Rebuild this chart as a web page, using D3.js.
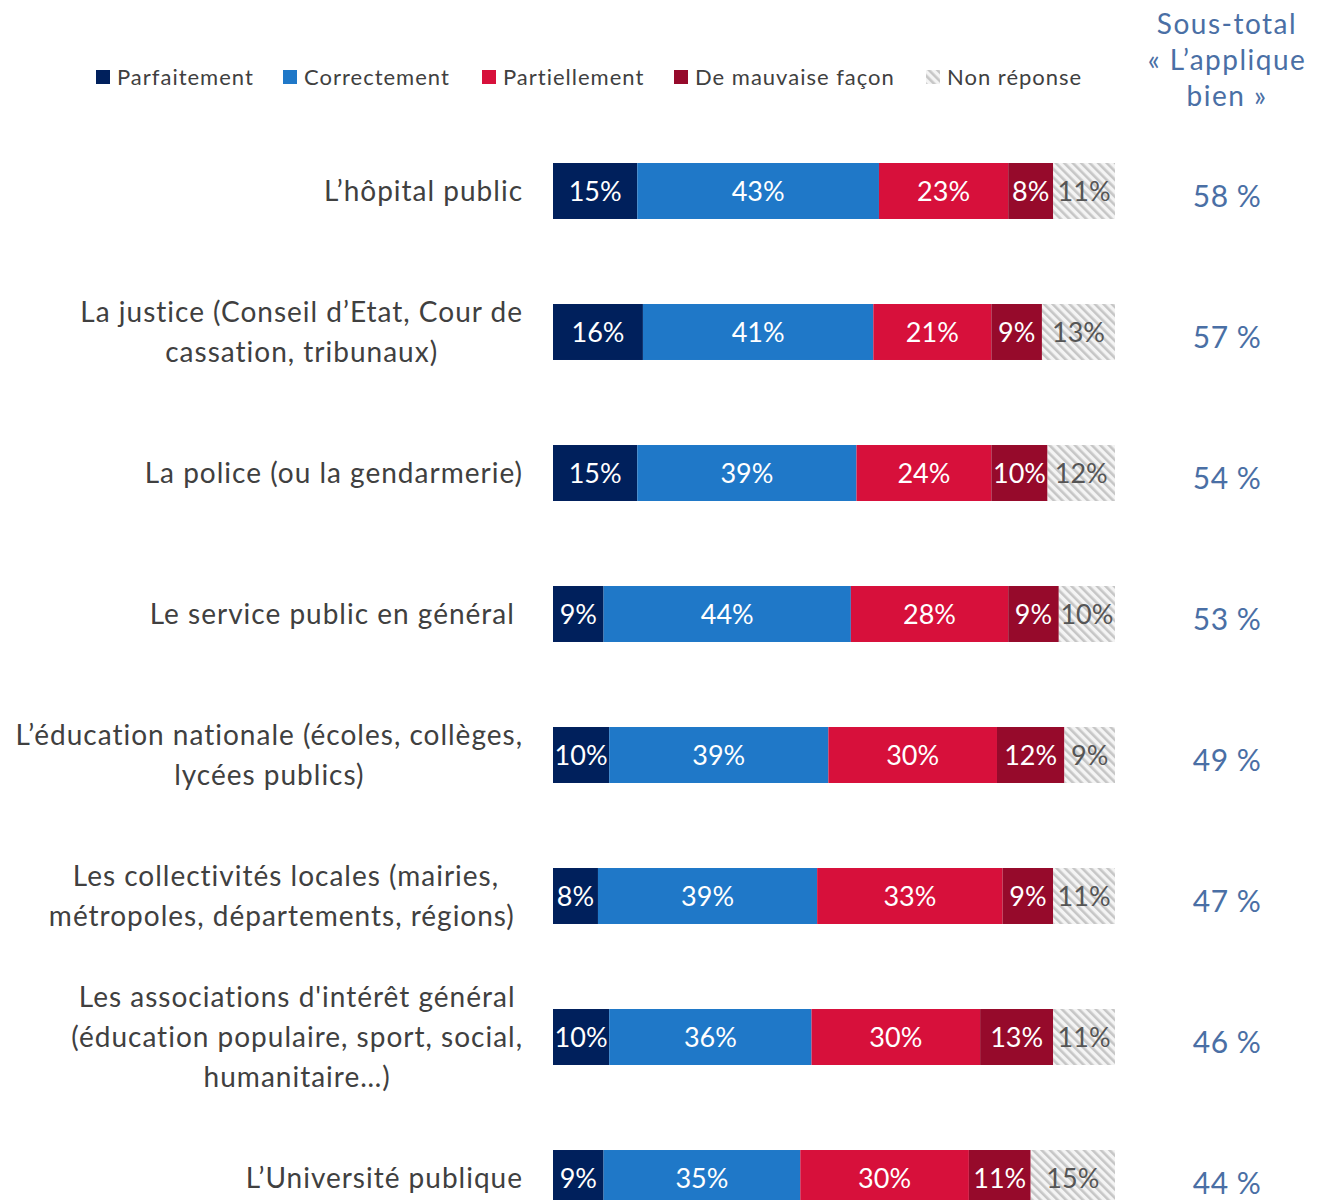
<!DOCTYPE html>
<html>
<head>
<meta charset="utf-8">
<script src="https://cdn.jsdelivr.net/npm/d3@7"></script>
<style>
  body { margin: 0; background: #fff; }
  svg text { font-family: Lato, "Noto Sans", sans-serif; white-space: pre; }
</style>
</head>
<body>
<div id="chart"></div>
<script>
// data
const categories = [
    ['L\u2019hôpital public'],
    ['La justice (Conseil d\u2019Etat, Cour de', 'cassation, tribunaux)'],
    ['La police (ou la gendarmerie)'],
    ['Le service public en général '],
    ['L\u2019éducation nationale (écoles, collèges,', 'lycées publics)'],
    ['Les collectivités locales (mairies,', 'métropoles, départements, régions) '],
    ['Les associations d\'intérêt général', '(éducation populaire, sport, social,', 'humanitaire\u2026)'],
    ['L\u2019Université publique']
];
const seriesNames = ['Parfaitement', 'Correctement', 'Partiellement', 'De mauvaise façon', 'Non réponse'];
const parfaitement = [15, 16, 15, 9, 10, 8, 10, 9];
const correctement = [43, 41, 39, 44, 39, 39, 36, 35];
const partiellement = [23, 21, 24, 28, 30, 33, 30, 30];
const mauvaise = [8, 9, 10, 9, 12, 9, 13, 11];
const nonReponse = [11, 13, 12, 10, 9, 11, 11, 15];
const sousTotal = [58, 57, 54, 53, 49, 47, 46, 44];

const colors = ['#00205c', '#1f78c8', '#d7103b', '#960a2b', 'url(#hatch)'];
const textColors = ['#fff', '#fff', '#fff', '#fff', '#555'];

const width = 1322, height = 1200;
const svg = d3.select('#chart').append('svg')
    .attr('width', width).attr('height', height);

const defs = svg.append('defs');
const pat = defs.append('pattern')
    .attr('id', 'hatch')
    .attr('patternUnits', 'userSpaceOnUse')
    .attr('width', 6).attr('height', 6)
    .attr('patternTransform', 'rotate(-45)');
pat.append('rect').attr('width', 6).attr('height', 6).attr('fill', '#f4f4f4');
pat.append('rect').attr('width', 2.6).attr('height', 6).attr('fill', '#c6c6c6');

const rows = categories.map((c, i) => {
    const vals = [parfaitement[i], correctement[i], partiellement[i], mauvaise[i], nonReponse[i]];
    let acc = 0;
    const segs = vals.map((v, k) => {
        const s = { k, v, x0: acc, x1: acc + v };
        acc += v;
        return s;
    });
    return { i, lines: c, segs, total: sousTotal[i] };
});

const x = d3.scaleLinear().domain([0, 100]).range([553, 1115]);
const y = d3.scaleBand()
    .domain(d3.range(categories.length))
    .range([120.5, 120.5 + 141 * categories.length])
    .paddingInner(0.603)
    .paddingOuter(0.3015);

// legend
const legendX = [96, 283, 482, 674, 926];
const legend = svg.append('g');
seriesNames.forEach((name, k) => {
    legend.append('rect')
        .attr('x', legendX[k]).attr('y', 70)
        .attr('width', 14).attr('height', 14)
        .attr('fill', colors[k]);
    legend.append('text')
        .attr('x', legendX[k] + 21).attr('y', 77)
        .attr('dy', '0.35em')
        .style('font-size', '22px')
        .style('letter-spacing', '1px')
        .style('fill', '#404040')
        .text(name);
});

// header of the subtotal column
const header = ['Sous-total', '\u00ab L\u2019applique', 'bien \u00bb'];
svg.append('g').selectAll('text')
    .data(header)
    .enter().append('text')
    .attr('x', 1227)
    .attr('y', (d, i) => 24 + i * 36)
    .attr('dy', '0.35em')
    .attr('text-anchor', 'middle')
    .style('font-size', '28px')
    .style('letter-spacing', '1.5px')
    .style('fill', '#4a6fa5')
    .text(d => d);

const row = svg.append('g').selectAll('.row')
    .data(rows)
    .enter().append('g')
    .attr('class', 'row');

row.selectAll('rect')
    .data(d => d.segs.map(s => Object.assign({ i: d.i }, s)))
    .enter().append('rect')
    .attr('x', s => x(s.x0))
    .attr('y', s => y(s.i))
    .attr('width', s => x(s.x1) - x(s.x0))
    .attr('height', y.bandwidth())
    .attr('fill', s => colors[s.k]);

row.selectAll('.val')
    .data(d => d.segs.map(s => Object.assign({ i: d.i }, s)))
    .enter().append('text')
    .attr('class', 'val')
    .attr('x', s => (x(s.x0) + x(s.x1)) / 2)
    .attr('y', s => y(s.i) + y.bandwidth() / 2)
    .attr('dy', '0.36em')
    .attr('text-anchor', 'middle')
    .style('font-size', '27px')
    .style('fill', s => textColors[s.k])
    .text(s => s.v + '%');

row.append('text')
    .attr('x', 1227)
    .attr('y', d => y(d.i) + y.bandwidth() / 2 + 5)
    .attr('dy', '0.36em')
    .attr('text-anchor', 'middle')
    .style('font-size', '30px')
    .style('letter-spacing', '0.5px')
    .style('fill', '#4a6fa5')
    .text(d => d.total + ' %');

// category labels: centred block, widest line ends at the bar's left gap
const labelRight = 523;
row.each(function(d) {
    const g = d3.select(this).append('g');
    const cy = y(d.i) + y.bandwidth() / 2;
    const n = d.lines.length;
    const texts = g.selectAll('text')
        .data(d.lines)
        .enter().append('text')
        .attr('x', 0)
        .attr('y', (l, j) => cy + (j - (n - 1) / 2) * 40)
        .attr('dy', '0.35em')
        .attr('text-anchor', 'middle')
        .style('font-size', '28px')
        .style('letter-spacing', '1px')
        .style('fill', '#404040')
        .text(l => l);
    let maxW = 0;
    texts.each(function() { maxW = Math.max(maxW, this.getComputedTextLength()); });
    g.attr('transform', `translate(${labelRight - maxW / 2},0)`);
});
</script>
</body>
</html>
